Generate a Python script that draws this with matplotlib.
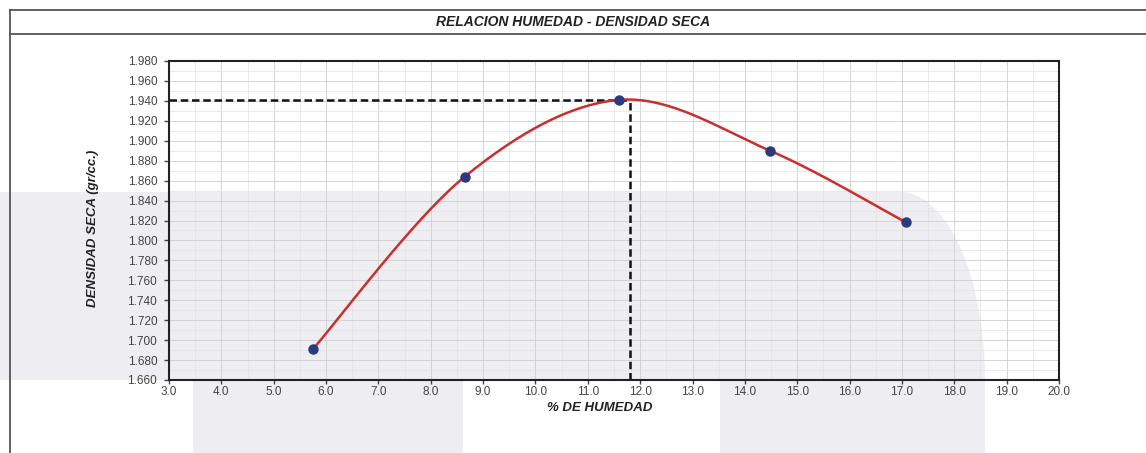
import numpy as np
import matplotlib
matplotlib.use("Agg")
import matplotlib.pyplot as plt
import matplotlib.patches as patches
from matplotlib.lines import Line2D
from matplotlib.ticker import MultipleLocator, FormatStrFormatter

# data
humedad = [5.75, 8.65, 11.60, 14.48, 17.08]
densidad = [1.691, 1.864, 1.941, 1.890, 1.818]
humedad_optima = 11.8
densidad_maxima = 1.941

plt.rcParams['font.family'] = ['Liberation Sans', 'DejaVu Sans']


# smooth line like a spreadsheet "smoothed line" (bezier through the points)
def smooth_curve(x, y, n=60):
    pts = np.column_stack([x, y])
    out = []
    for i in range(len(pts) - 1):
        p0 = pts[i]
        p3 = pts[i + 1]
        prev_p = pts[i - 1] if i > 0 else pts[i]
        next_p = pts[i + 2] if i + 2 < len(pts) else pts[i + 1]
        p1 = p0 + (p3 - prev_p) / 6.0
        p2 = p3 - (next_p - p0) / 6.0
        t = np.linspace(0, 1, n)[:, None]
        seg = ((1 - t) ** 3) * p0 + 3 * ((1 - t) ** 2) * t * p1 + 3 * (1 - t) * t ** 2 * p2 + t ** 3 * p3
        out.append(seg)
    curve = np.vstack(out)
    return curve[:, 0], curve[:, 1]


fig = plt.figure(figsize=(11.46, 4.53), dpi=100)
W, H = 1146.0, 453.0

def fx(px):
    return px / W

def fy(py):
    return 1 - py / H

# light gray scanned watermark in the background (below the axes)
wm = '#eeedf2'
def wm_patch(p):
    p.set_transform(fig.transFigure)
    p.set_facecolor(wm)
    p.set_edgecolor('none')
    p.set_zorder(-5)
    fig.patches.append(p)

wm_patch(patches.Rectangle((0, fy(380)), fx(900), fy(192) - fy(380)))
wm_patch(patches.Ellipse((fx(900), fy(380)), fx(170), (fy(192) - fy(380)) * 2))
wm_patch(patches.Rectangle((fx(900), 0), fx(85), fy(380)))
wm_patch(patches.Rectangle((fx(193), 0), fx(270), fy(380)))
wm_patch(patches.Rectangle((fx(720), 0), fx(200), fy(380)))

# outer frame and title band
frame = '#555555'
fig.lines.append(Line2D([fx(10), 1], [fy(10), fy(10)], transform=fig.transFigure, color=frame, lw=1.3))
fig.lines.append(Line2D([fx(10), 1], [fy(34), fy(34)], transform=fig.transFigure, color=frame, lw=1.3))
fig.lines.append(Line2D([fx(10), fx(10)], [0, fy(10)], transform=fig.transFigure, color=frame, lw=1.3))
fig.text(0.5, fy(22), "RELACION HUMEDAD - DENSIDAD SECA", ha='center', va='center',
         fontsize=10, fontweight='bold', style='italic', color='#222222')

ax = fig.add_axes([fx(169), fy(380), fx(1059) - fx(169), fy(61) - fy(380)])
ax.set_zorder(1)
ax.patch.set_alpha(0)

ax.set_xlim(3.0, 20.0)
ax.set_ylim(1.660, 1.980)
ax.xaxis.set_major_locator(MultipleLocator(1.0))
ax.xaxis.set_minor_locator(MultipleLocator(0.5))
ax.yaxis.set_major_locator(MultipleLocator(0.02))
ax.yaxis.set_minor_locator(MultipleLocator(0.01))
ax.xaxis.set_major_formatter(FormatStrFormatter('%.1f'))
ax.yaxis.set_major_formatter(FormatStrFormatter('%.3f'))
ax.grid(which='major', color='#cfcfcf', lw=0.6)
ax.grid(which='minor', color='#e2e2e2', lw=0.5)
ax.tick_params(axis='y', which='major', labelsize=8.5, length=3.5, width=1, colors='#444444', pad=5)
ax.tick_params(axis='x', which='major', labelsize=8.5, length=3, width=1, colors='#444444', pad=1.5)
ax.tick_params(which='minor', length=0)
for sp in ax.spines.values():
    sp.set_linewidth(1.5)
    sp.set_color('#222222')

xs, ys = smooth_curve(humedad, densidad)
ax.plot(xs, ys, color='#c8302e', lw=1.8, zorder=3)
ax.plot(humedad, densidad, 'o', color='#2b3a7c', markersize=6.5, zorder=4)

ax.plot([3.0, humedad_optima], [densidad_maxima, densidad_maxima], color='#111111', lw=1.8,
        dashes=(3, 1.5), zorder=2)
ax.plot([humedad_optima, humedad_optima], [1.660, densidad_maxima], color='#111111', lw=1.8,
        dashes=(3, 1.5), zorder=2)

fig.text(fx(93), fy(228), "DENSIDAD SECA (gr/cc.)", rotation=90, ha='center', va='center',
         fontsize=9.5, fontweight='bold', style='italic', color='#222222')
fig.text(fx(600), fy(408), "% DE HUMEDAD", ha='center', va='center',
         fontsize=9.5, fontweight='bold', style='italic', color='#222222')

plt.savefig("out.png", dpi=100)
